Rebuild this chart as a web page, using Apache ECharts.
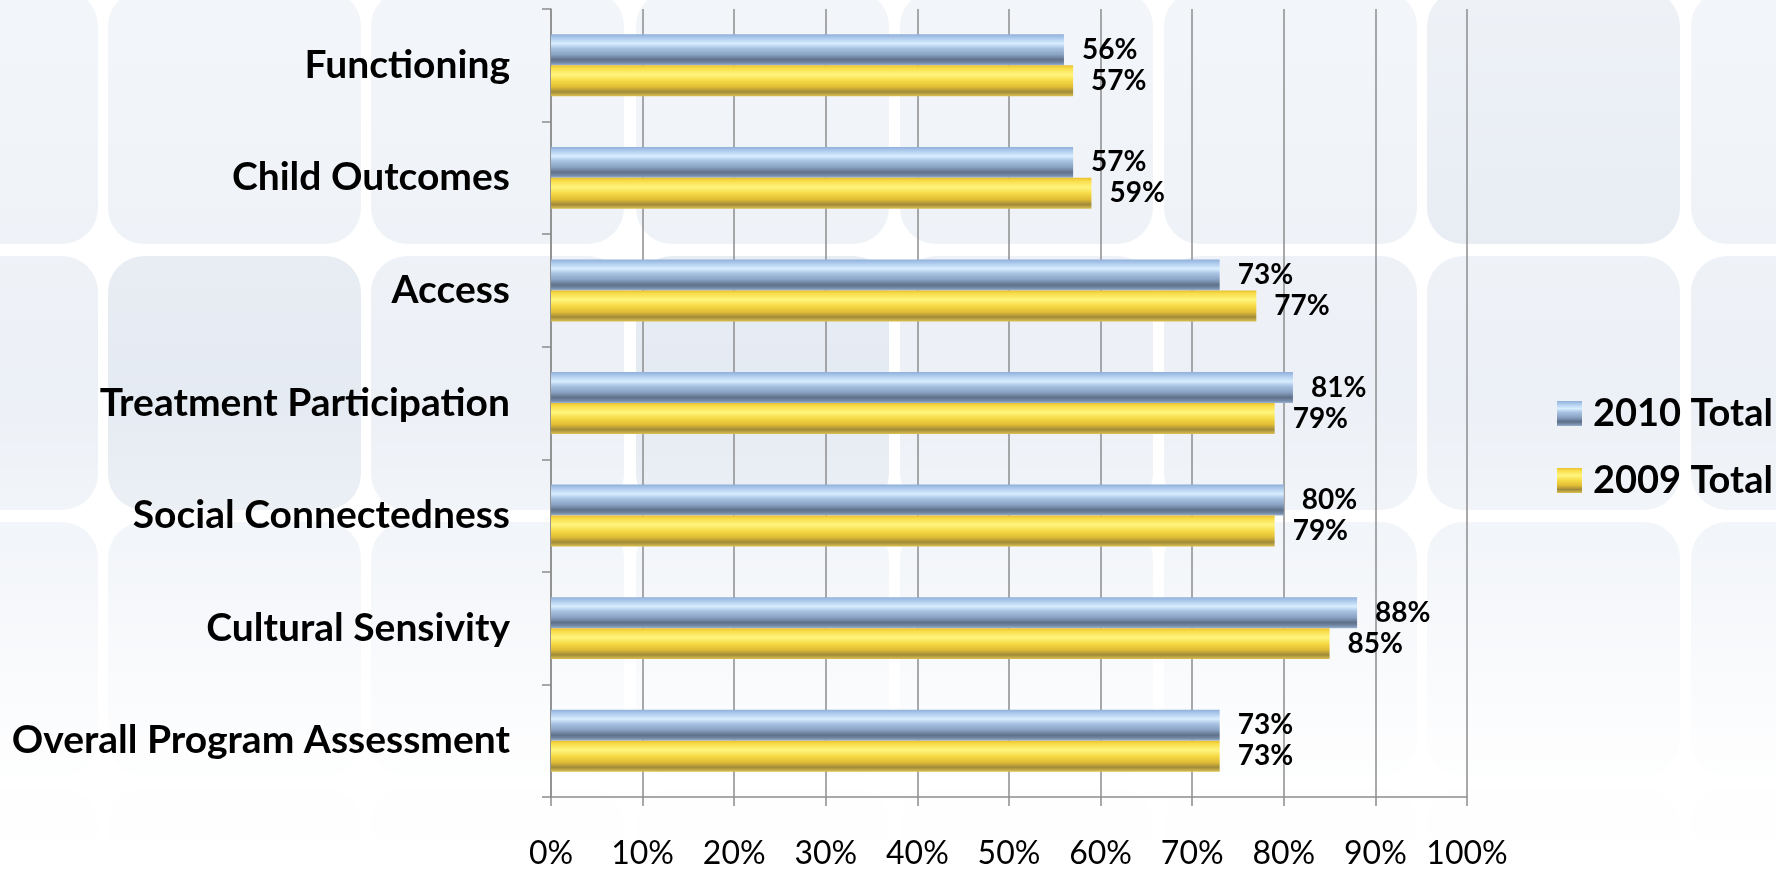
<!DOCTYPE html>
<html>
<head>
<meta charset="utf-8">
<script src="https://cdn.jsdelivr.net/npm/echarts@6/dist/echarts.min.js"></script>
<style>
  html, body { margin: 0; padding: 0; background: #ffffff; }
  #chart { width: 1776px; height: 874px; }
</style>
</head>
<body>
<div id="chart"></div>
<script>
// ---- data ----
const categories = [
  'Functioning',
  'Child Outcomes',
  'Access',
  'Treatment Participation',
  'Social Connectedness',
  'Cultural Sensivity',
  'Overall Program Assessment'
];
const total2010 = [56, 57, 73, 81, 80, 88, 73];
const total2009 = [57, 59, 77, 79, 79, 85, 73];
const seriesNames = ['2010 Total', '2009 Total'];
const xTicks = [0, 10, 20, 30, 40, 50, 60, 70, 80, 90, 100];

// ---- decorative background tiles ----
const tileXs = [-155, 108, 371, 636, 900, 1164, 1427, 1691];
const tileYs = [-10, 256, 522, 788];
const darkTiles = { '0,6': 1, '1,1': 1, '1,3': 1 };
const bgGraphics = [];
tileYs.forEach((ty, r) => {
  tileXs.forEach((tx, c) => {
    bgGraphics.push({
      type: 'rect',
      silent: true,
      z: -10,
      shape: { x: tx, y: ty, width: 253, height: 254, r: 36 },
      style: { fill: darkTiles[r + ',' + c] ? '#e0e7f0' : '#e9eef5' }
    });
  });
});
bgGraphics.push({
  type: 'rect',
  silent: true,
  z: -9,
  shape: { x: 0, y: 0, width: 1776, height: 874 },
  style: {
    fill: new echarts.graphic.LinearGradient(0, 0, 0, 1, [
      { offset: 0, color: 'rgba(255,255,255,0.45)' },
      { offset: 0.45, color: 'rgba(255,255,255,0.15)' },
      { offset: 0.68, color: 'rgba(255,255,255,0.55)' },
      { offset: 0.85, color: 'rgba(255,255,255,0.9)' },
      { offset: 1, color: 'rgba(255,255,255,1)' }
    ])
  }
});

const blueGrad = new echarts.graphic.LinearGradient(0, 0, 0, 1, [
  { offset: 0, color: '#8fb0da' },
  { offset: 0.1, color: '#a9c6ea' },
  { offset: 0.3, color: '#d8eeff' },
  { offset: 0.45, color: '#a8c2e2' },
  { offset: 0.65, color: '#8aa3c4' },
  { offset: 0.82, color: '#5f718a' },
  { offset: 0.92, color: '#7489a5' },
  { offset: 1, color: '#9ab3d4' }
]);
const yellowGrad = new echarts.graphic.LinearGradient(0, 0, 0, 1, [
  { offset: 0, color: '#e8c030' },
  { offset: 0.1, color: '#f9dd4a' },
  { offset: 0.3, color: '#fff57e' },
  { offset: 0.5, color: '#f6da45' },
  { offset: 0.7, color: '#e0bc35' },
  { offset: 0.86, color: '#a08a3a' },
  { offset: 1, color: '#dcc050' }
]);

const FONT = 'Lato, "Open Sans", sans-serif';
const labelStyle = {
  show: true,
  position: 'right',
  distance: 18,
  formatter: '{c}%',
  fontFamily: FONT,
  fontWeight: 'bold',
  fontSize: 28,
  color: '#000'
};

const chart = echarts.init(document.getElementById('chart'));
chart.setOption({
  backgroundColor: '#ffffff',
  animation: false,
  graphic: bgGraphics,
  grid: { left: 551, right: 309, top: 9, bottom: 77, containLabel: false },
  legend: {
    orient: 'vertical',
    left: 1552,
    top: 388,
    itemWidth: 25,
    itemHeight: 25,
    itemGap: 26,
    icon: 'rect',
    data: seriesNames,
    textStyle: {
      fontFamily: FONT,
      fontWeight: 'bold',
      fontSize: 38,
      lineHeight: 41,
      color: '#000',
      padding: [0, 0, 0, 6]
    }
  },
  xAxis: {
    type: 'value',
    min: xTicks[0],
    max: xTicks[xTicks.length - 1],
    interval: xTicks[1] - xTicks[0],
    axisLine: { show: true, lineStyle: { color: '#8c8c8c', width: 1.5 } },
    axisTick: { show: true, length: 9, lineStyle: { color: '#8c8c8c', width: 1.5 } },
    splitLine: { show: true, lineStyle: { color: '#8c8c8c', width: 1.5 } },
    axisLabel: {
      formatter: '{value}%',
      fontFamily: FONT,
      fontSize: 32,
      color: '#000',
      margin: 41
    }
  },
  yAxis: {
    type: 'category',
    inverse: true,
    data: categories,
    axisLine: { show: true, lineStyle: { color: '#8c8c8c', width: 1.5 } },
    axisTick: { show: true, length: 9, lineStyle: { color: '#8c8c8c', width: 1.5 } },
    splitLine: { show: false },
    axisLabel: {
      fontFamily: FONT,
      fontWeight: 'bold',
      fontSize: 39,
      color: '#000',
      margin: 41
    }
  },
  series: [
    {
      name: seriesNames[0],
      type: 'bar',
      data: total2010,
      barGap: '0%',
      barCategoryGap: '45%',
      itemStyle: { color: blueGrad },
      label: labelStyle
    },
    {
      name: seriesNames[1],
      type: 'bar',
      data: total2009,
      barGap: '0%',
      barCategoryGap: '45%',
      itemStyle: { color: yellowGrad },
      label: labelStyle
    }
  ]
});
</script>
</body>
</html>
